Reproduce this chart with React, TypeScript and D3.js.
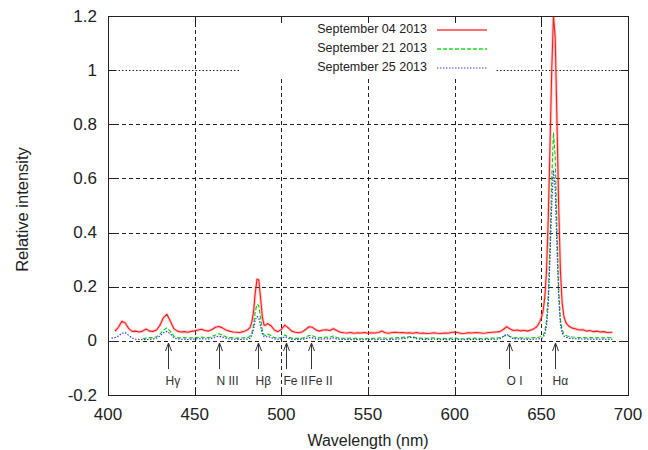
import React from "react";
import * as d3 from "d3";

// Wavelength grid (nm); finer sampling around the Balmer peaks
const WAVELENGTH: number[] = [
  402, 404, 406, 408, 410, 412, 414, 416, 418, 420,
  422, 424, 426, 428, 430, 432, 434, 436, 438, 440,
  442, 444, 446, 448, 450, 452, 454, 456, 458, 460,
  462, 464, 466, 468, 470, 472, 474, 476, 478, 480,
  481, 482, 483, 484, 485, 486, 487, 488, 489, 490, 491, 492,
  494, 496, 498, 500, 502, 504, 506, 508, 510, 512,
  514, 516, 518, 520, 522, 524, 526, 528, 530, 532,
  534, 536, 538, 540, 542, 544, 546, 548, 550, 552,
  554, 556, 558, 560, 562, 564, 566, 568, 570, 572,
  574, 576, 578, 580, 582, 584, 586, 588, 590, 592,
  594, 596, 598, 600, 602, 604, 606, 608, 610, 612,
  614, 616, 618, 620, 622, 624, 626, 628, 630, 632,
  634, 636, 638, 640, 642, 644,
  645, 646, 647, 648, 649, 650, 651, 652, 653, 654,
  655, 656, 657, 658, 659, 660, 661, 662, 663, 664,
  665, 666, 667, 668,
  670, 672, 674, 676, 678, 680, 682, 684, 686, 688, 691,
];

const SEP_04: (number | null)[] = [
  null, 0.036, 0.05, 0.072, 0.066, 0.045, 0.035, 0.036, 0.033, 0.036,
  0.044, 0.036, 0.035, 0.04, 0.058, 0.086, 0.098, 0.072, 0.045, 0.036,
  0.033, 0.034, 0.032, 0.035, 0.037, 0.04, 0.043, 0.038, 0.036, 0.042,
  0.05, 0.053, 0.048, 0.04, 0.036, 0.033, 0.032, 0.031, 0.034, 0.039,
  0.043, 0.05, 0.07, 0.11, 0.18, 0.228, 0.225, 0.16, 0.09, 0.058, 0.058, 0.064,
  0.056, 0.04, 0.034, 0.042, 0.058, 0.048, 0.036, 0.032, 0.03, 0.033,
  0.042, 0.052, 0.05, 0.04, 0.036, 0.04, 0.041, 0.038, 0.045, 0.038,
  0.032, 0.03, 0.029, 0.031, 0.028, 0.03, 0.029, 0.031, 0.028, 0.03,
  0.029, 0.031, 0.036, 0.03, 0.028, 0.031, 0.032, 0.03, 0.031, 0.029,
  0.03, 0.028, 0.031, 0.028, 0.029, 0.027, 0.028, 0.03, 0.028, 0.027,
  0.029, 0.028, 0.031, 0.033, 0.03, 0.027, 0.028, 0.03, 0.029, 0.031,
  0.03, 0.028, 0.029, 0.031, 0.032, 0.033, 0.034, 0.042, 0.052, 0.044,
  0.038, 0.04, 0.037, 0.039, 0.036, 0.04,
  0.042, 0.046, 0.05, 0.058, 0.07, 0.085, 0.11, 0.16, 0.26, 0.45,
  0.72, 1.0, 1.2, 1.12, 0.82, 0.5, 0.26, 0.14, 0.09, 0.07,
  0.06, 0.054, 0.05, 0.047,
  0.044, 0.04, 0.041, 0.036, 0.038, 0.034, 0.036, 0.033, 0.034, 0.031, 0.032,
];

const SEP_21: (number | null)[] = [
  null, null, null, null, null, null, null, null, null, 0.008,
  0.01, 0.012, 0.012, 0.015, 0.025, 0.04, 0.048, 0.035, 0.018, 0.012,
  0.011, 0.012, 0.01, 0.011, 0.012, 0.013, 0.014, 0.012, 0.012, 0.016,
  0.022, 0.026, 0.021, 0.015, 0.012, 0.011, 0.01, 0.01, 0.011, 0.012,
  0.013, 0.018, 0.03, 0.06, 0.11, 0.135, 0.13, 0.085, 0.04, 0.022, 0.02, 0.025,
  0.02, 0.012, 0.01, 0.012, 0.022, 0.015, 0.01, 0.009, 0.009, 0.01,
  0.014, 0.02, 0.019, 0.013, 0.011, 0.013, 0.014, 0.013, 0.018, 0.012,
  0.01, 0.009, 0.009, 0.01, 0.009, 0.009, 0.008, 0.009, 0.008, 0.009,
  0.009, 0.01, 0.012, 0.01, 0.009, 0.01, 0.011, 0.012, 0.013, 0.014,
  0.016, 0.014, 0.011, 0.01, 0.009, 0.009, 0.01, 0.011, 0.009, 0.008,
  0.009, 0.008, 0.01, 0.011, 0.009, 0.008, 0.008, 0.009, 0.009, 0.01,
  0.009, 0.008, 0.009, 0.01, 0.01, 0.011, 0.012, 0.016, 0.022, 0.016,
  0.011, 0.012, 0.011, 0.01, 0.01, 0.011,
  0.011, 0.012, 0.012, 0.013, 0.014, 0.016, 0.02, 0.035, 0.075, 0.17,
  0.36, 0.6, 0.77, 0.68, 0.42, 0.2, 0.08, 0.04, 0.027, 0.021,
  0.018, 0.016, 0.015, 0.014,
  0.013, 0.012, 0.012, 0.011, 0.012, 0.011, 0.011, 0.012, 0.011, 0.012, 0.011,
];

const SEP_25: (number | null)[] = [
  0.01, 0.012, 0.018, 0.028, 0.03, 0.02, 0.01, 0.006, 0.005, 0.004,
  0.005, 0.006, 0.007, 0.01, 0.018, 0.03, 0.035, 0.025, 0.012, 0.007,
  0.006, 0.006, 0.005, 0.006, 0.007, 0.008, 0.008, 0.007, 0.007, 0.01,
  0.015, 0.018, 0.014, 0.01, 0.007, 0.006, 0.006, 0.005, 0.006, 0.006,
  0.007, 0.01, 0.02, 0.045, 0.078, 0.09, 0.085, 0.055, 0.028, 0.015, 0.014, 0.016,
  0.013, 0.007, 0.006, 0.008, 0.016, 0.01, 0.006, 0.005, 0.005, 0.006,
  0.008, 0.012, 0.011, 0.007, 0.006, 0.007, 0.008, 0.007, 0.011, 0.007,
  0.006, 0.005, 0.005, 0.005, 0.004, 0.005, 0.004, 0.005, 0.004, 0.005,
  0.004, 0.005, 0.006, 0.005, 0.004, 0.005, 0.006, 0.007, 0.008, 0.01,
  0.013, 0.012, 0.008, 0.006, 0.005, 0.005, 0.006, 0.007, 0.005, 0.004,
  0.005, 0.004, 0.005, 0.006, 0.005, 0.004, 0.004, 0.005, 0.005, 0.006,
  0.005, 0.004, 0.005, 0.005, 0.006, 0.006, 0.008, 0.016, 0.025, 0.015,
  0.007, 0.008, 0.007, 0.006, 0.005, 0.006,
  0.006, 0.006, 0.007, 0.007, 0.008, 0.009, 0.012, 0.024, 0.055, 0.13,
  0.3, 0.5, 0.63, 0.56, 0.34, 0.16, 0.06, 0.03, 0.018, 0.014,
  0.012, 0.01, 0.009, 0.008,
  0.008, 0.007, 0.007, 0.007, 0.006, 0.006, 0.006, 0.006, 0.006, 0.006, 0.006,
];

const SERIES_NAMES = ["September 04 2013", "September 21 2013", "September 25 2013"];
const SERIES_COLORS = ["#ff1a1a", "#00cc00", "#2a2aff"];
const SERIES_LEGEND_COLORS = ["#ff4040", "#20dd20", "#8080ff"];
const SERIES_DASH = ["none", "4,2", "1.5,1.5"];

const X_TICKS = [400, 450, 500, 550, 600, 650, 700];
const Y_TICKS = [-0.2, 0, 0.2, 0.4, 0.6, 0.8, 1, 1.2];

// Identified emission lines
const LINE_LABELS = ["Hγ", "N III", "Hβ", "Fe II", "Fe II", "O I", "Hα"];
const LINE_WAVELENGTHS = [434.5, 464, 486.5, 502.5, 517, 631.5, 658];

const W = 648;
const H = 450;
const M = { left: 108, right: 628, top: 16, bottom: 395 };
const FONT = "'Liberation Sans', Arial, Helvetica, sans-serif";

export default function App() {
  const x = d3.scaleLinear().domain([400, 700]).range([M.left, M.right]);
  const y = d3.scaleLinear().domain([-0.2, 1.2]).range([M.bottom, M.top]);

  const series = [SEP_04, SEP_21, SEP_25];

  const makePath = (vals: (number | null)[]) =>
    d3
      .line<number>()
      .defined((i) => vals[i] !== null)
      .x((i) => x(WAVELENGTH[i]))
      .y((i) => y(vals[i] as number))(d3.range(WAVELENGTH.length)) || "";

  const legendBox = { x0: 240, x1: 496, y0: M.top + 1, y1: 77 };
  const gridDash = "4,3";

  return (
    <svg
      width={W}
      height={H}
      style={{ position: "absolute", left: 0, top: 0, background: "#fff" }}
      fontFamily={FONT}
    >
      <rect x={0} y={0} width={W} height={H} fill="#fff" />
      <defs>
        <clipPath id="plot-area">
          <rect x={M.left} y={M.top} width={M.right - M.left} height={M.bottom - M.top} />
        </clipPath>
      </defs>

      {/* grid */}
      <g stroke="#222" strokeWidth={1}>
        {Y_TICKS.filter((t) => t > -0.2 && t < 1.2).map((t) => (
          <line
            key={"gy" + t}
            x1={M.left}
            x2={M.right}
            y1={Math.round(y(t)) + 0.5}
            y2={Math.round(y(t)) + 0.5}
            strokeDasharray={t === 1 ? "1.5,2" : gridDash}
          />
        ))}
        {X_TICKS.filter((t) => t > 400 && t < 700).map((t) => (
          <line
            key={"gx" + t}
            x1={Math.round(x(t)) + 0.5}
            x2={Math.round(x(t)) + 0.5}
            y1={M.top}
            y2={M.bottom}
            strokeDasharray={gridDash}
          />
        ))}
      </g>

      {/* legend background masks the grid beneath it */}
      <rect
        x={legendBox.x0}
        y={legendBox.y0}
        width={legendBox.x1 - legendBox.x0}
        height={legendBox.y1 - legendBox.y0}
        fill="#fff"
      />

      {/* spectra */}
      <g clipPath="url(#plot-area)" fill="none" strokeLinejoin="round">
        <path d={makePath(SEP_04)} stroke="#ff0000" strokeOpacity={0.2} strokeWidth={3} />
        {series.map((vals, k) => (
          <path
            key={"s" + k}
            d={makePath(vals)}
            stroke={SERIES_COLORS[k]}
            strokeWidth={k === 0 ? 1.1 : 1.1}
            strokeDasharray={SERIES_DASH[k]}
          />
        ))}
      </g>

      {/* legend */}
      <g fontSize={12.5} fill="#222">
        {SERIES_NAMES.map((name, k) => {
          const cy = 29 + k * 19;
          return (
            <g key={"lg" + k}>
              <text x={427} y={cy} textAnchor="end" dominantBaseline="central">
                {name}
              </text>
              <line
                x1={437}
                x2={487}
                y1={cy + 1}
                y2={cy + 1}
                stroke={SERIES_LEGEND_COLORS[k]}
                strokeWidth={1.6}
                strokeDasharray={SERIES_DASH[k]}
              />
            </g>
          );
        })}
      </g>

      {/* line identifications */}
      <g fontSize={12} fill="#333">
        {LINE_LABELS.map((lab, k) => {
          const px = Math.round(x(LINE_WAVELENGTHS[k])) + 0.5;
          const tip = 343;
          return (
            <g key={"ann" + k}>
              <line x1={px} x2={px} y1={tip} y2={369} stroke="#333" strokeWidth={1} />
              <path
                d={`M${px - 3},${tip + 8} L${px},${tip} L${px + 3},${tip + 8}`}
                fill="none"
                stroke="#333"
                strokeWidth={1}
              />
              <text x={px - 3} y={385}>
                {lab}
              </text>
            </g>
          );
        })}
      </g>

      {/* border and ticks */}
      <rect
        x={M.left + 0.5}
        y={M.top + 0.5}
        width={M.right - M.left}
        height={M.bottom - M.top}
        fill="none"
        stroke="#222"
        strokeWidth={1}
      />
      <g stroke="#222" strokeWidth={1}>
        {Y_TICKS.map((t) => {
          const py = Math.round(y(t)) + 0.5;
          return (
            <g key={"ty" + t}>
              <line x1={M.left} x2={M.left + 7} y1={py} y2={py} />
              <line x1={M.right - 7} x2={M.right} y1={py} y2={py} />
            </g>
          );
        })}
        {X_TICKS.map((t) => {
          const px = Math.round(x(t)) + 0.5;
          return (
            <g key={"tx" + t}>
              <line x1={px} x2={px} y1={M.bottom} y2={M.bottom - 7} />
              <line x1={px} x2={px} y1={M.top} y2={M.top + 7} />
            </g>
          );
        })}
      </g>

      {/* tick labels */}
      <g fontSize={17} fill="#222">
        {Y_TICKS.map((t) => (
          <text key={"ly" + t} x={97} y={y(t)} textAnchor="end" dominantBaseline="central">
            {d3.format("~g")(t).replace("−", "-")}
          </text>
        ))}
        {X_TICKS.map((t) => (
          <text key={"lx" + t} x={x(t)} y={420} textAnchor="middle">
            {t}
          </text>
        ))}
      </g>

      {/* axis titles */}
      <text x={(M.left + M.right) / 2} y={446} textAnchor="middle" fontSize={16} fill="#222">
        Wavelength (nm)
      </text>
      <text
        transform={`translate(28, ${(M.top + M.bottom) / 2 + 4}) rotate(-90)`}
        textAnchor="middle"
        fontSize={16.5}
        fill="#222"
      >
        Relative intensity
      </text>
    </svg>
  );
}
